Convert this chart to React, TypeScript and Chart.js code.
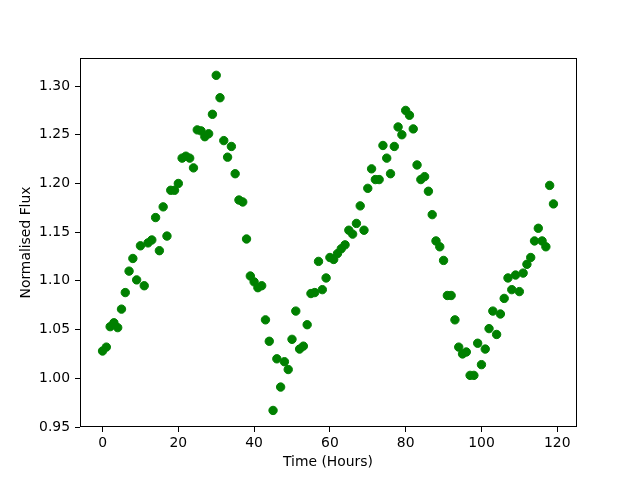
import React, { useEffect, useRef } from "react";
import { Chart, registerables } from "chart.js";

Chart.register(...registerables);

const hours = [
  0, 1, 2, 3, 4, 5, 6, 7, 8, 9, 10, 11, 12, 13, 14, 15, 16, 17, 18, 19,
  20, 21, 22, 23, 24, 25, 26, 27, 28, 29, 30, 31, 32, 33, 34, 35, 36, 37, 38, 39,
  40, 41, 42, 43, 44, 45, 46, 47, 48, 49, 50, 51, 52, 53, 54, 55, 56, 57, 58, 59,
  60, 61, 62, 63, 64, 65, 66, 67, 68, 69, 70, 71, 72, 73, 74, 75, 76, 77, 78, 79,
  80, 81, 82, 83, 84, 85, 86, 87, 88, 89, 90, 91, 92, 93, 94, 95, 96, 97, 98, 99,
  100, 101, 102, 103, 104, 105, 106, 107, 108, 109, 110, 111, 112, 113, 114, 115, 116, 117, 118, 119,
];

const flux = [
  1.028, 1.032, 1.053, 1.057, 1.052, 1.071, 1.088, 1.110, 1.123, 1.101,
  1.136, 1.095, 1.139, 1.142, 1.165, 1.131, 1.176, 1.146, 1.193, 1.193,
  1.200, 1.226, 1.228, 1.226, 1.216, 1.255, 1.254, 1.248, 1.251, 1.271,
  1.311, 1.288, 1.244, 1.227, 1.238, 1.210, 1.183, 1.181, 1.143, 1.105,
  1.099, 1.093, 1.095, 1.060, 1.038, 0.967, 1.020, 0.991, 1.017, 1.009,
  1.040, 1.069, 1.030, 1.033, 1.055, 1.087, 1.088, 1.120, 1.091, 1.103,
  1.124, 1.122, 1.128, 1.133, 1.137, 1.152, 1.148, 1.159, 1.177, 1.152,
  1.195, 1.215, 1.204, 1.204, 1.239, 1.226, 1.210, 1.238, 1.258, 1.250,
  1.275, 1.270, 1.256, 1.219, 1.204, 1.207, 1.192, 1.168, 1.141, 1.135,
  1.121, 1.085, 1.085, 1.060, 1.032, 1.025, 1.027, 1.003, 1.003, 1.036,
  1.014, 1.030, 1.051, 1.069, 1.045, 1.066, 1.082, 1.103, 1.091, 1.106,
  1.089, 1.108, 1.117, 1.124, 1.141, 1.154, 1.141, 1.135, 1.198, 1.179,
];

const xTicks = [0, 20, 40, 60, 80, 100, 120];
const yTicks = [0.95, 1.0, 1.05, 1.1, 1.15, 1.2, 1.25, 1.3];

const xTitle = "Time (Hours)";
const yTitle = "Normalised Flux";

const FONT = "'DejaVu Sans', sans-serif";

const framePlugin = {
  id: "frame",
  afterDatasetsDraw(chart: any) {
    const { ctx, chartArea } = chart;
    const l = Math.round(chartArea.left);
    const t = Math.round(chartArea.top);
    const r = Math.round(chartArea.right);
    const b = Math.round(chartArea.bottom);
    ctx.save();
    ctx.strokeStyle = "#000";
    ctx.lineWidth = 1;
    ctx.strokeRect(l + 0.5, t + 0.5, r - l, b - t - 1);
    ctx.restore();
  },
};

export default function App() {
  const ref = useRef<HTMLCanvasElement | null>(null);

  useEffect(() => {
    if (!ref.current) return;
    const chart = new Chart(ref.current, {
      type: "scatter",
      data: {
        datasets: [
          {
            data: hours.map((h, i) => ({ x: h, y: flux[i] })),
            backgroundColor: "#008000",
            borderColor: "#008000",
            pointRadius: 4.2,
            pointBorderWidth: 1,
            pointHoverRadius: 4.2,
          },
        ],
      },
      options: {
        animation: false,
        responsive: false,
        devicePixelRatio: 1,
        layout: { padding: { top: 58, right: 64, left: 0, bottom: 0 } },
        plugins: {
          legend: { display: false },
          tooltip: { enabled: false },
        },
        scales: {
          x: {
            type: "linear",
            min: -5.95,
            max: 124.95,
            afterFit: (s: any) => {
              s.height = 53;
            },
            afterBuildTicks: (s: any) => {
              s.ticks = xTicks.map((v) => ({ value: v }));
            },
            grid: {
              display: true,
              drawOnChartArea: false,
              drawTicks: true,
              tickLength: 5,
              tickColor: "#000",
            },
            border: { display: false },
            ticks: {
              color: "#000",
              font: { family: FONT, size: 13.9 },
              padding: 3,
              maxRotation: 0,
              callback: (v: any) => String(v),
            },
            title: {
              display: true,
              text: xTitle,
              color: "#000",
              font: { family: FONT, size: 13.9 },
              padding: { top: 0, bottom: 9 },
            },
          },
          y: {
            type: "linear",
            min: 0.95,
            max: 1.3288,
            afterFit: (s: any) => {
              s.width = 80;
            },
            afterBuildTicks: (s: any) => {
              s.ticks = yTicks.map((v) => ({ value: v }));
            },
            grid: {
              display: true,
              drawOnChartArea: false,
              drawTicks: true,
              tickLength: 5,
              tickColor: "#000",
            },
            border: { display: false },
            ticks: {
              color: "#000",
              font: { family: FONT, size: 13.9 },
              padding: 5,
              callback: (v: any) => Number(v).toFixed(2),
            },
            title: {
              display: true,
              text: yTitle,
              color: "#000",
              font: { family: FONT, size: 13.9 },
              padding: { top: 18, bottom: 0 },
            },
          },
        },
      },
      plugins: [framePlugin],
    });
    return () => chart.destroy();
  }, []);

  return (
    <div style={{ position: "absolute", left: 0, top: 0, width: 640, height: 480, background: "#fff" }}>
      <canvas ref={ref} width={640} height={480} style={{ width: 640, height: 480 }} />
    </div>
  );
}
